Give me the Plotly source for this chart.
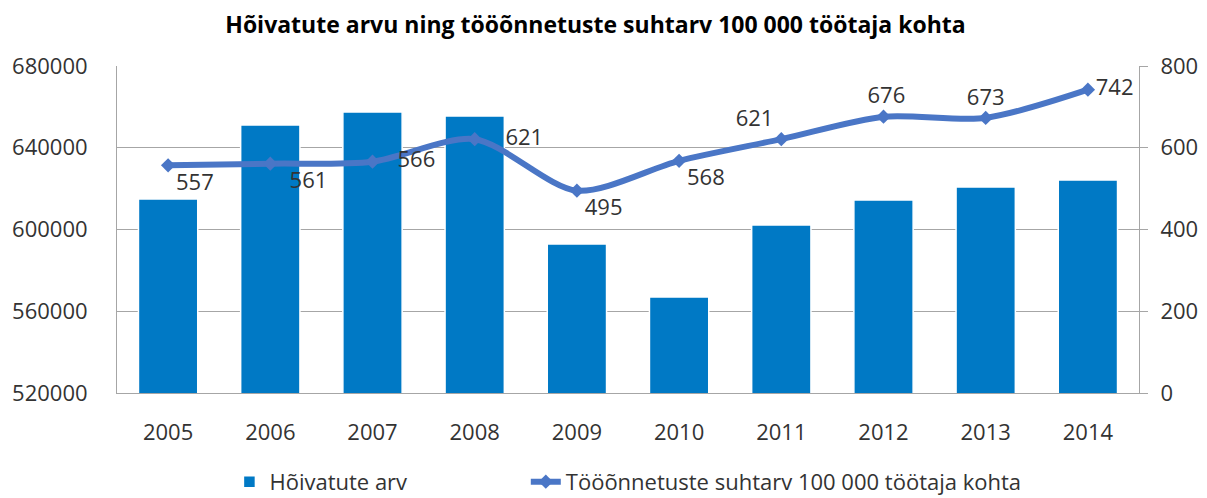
import plotly.graph_objects as go

years = ["2005", "2006", "2007", "2008", "2009", "2010", "2011", "2012", "2013", "2014"]
employed = [614900, 651100, 657500, 655500, 592900, 567000, 602200, 614400, 620800, 624200]
accident_rate = [557, 561, 566, 621, 495, 568, 621, 676, 673, 742]

# label placement (style only)
label_pos = ["bottom right", "bottom right", "middle right", "middle right", "bottom right",
             "bottom right", "top left", "top center", "top center", "middle right"]
label_pad = [0, 2, 3, 4, 0, 0, 0, 1, 0, 0]

FONT = "Open Sans, DejaVu Sans, sans-serif"
TXT = "#333333"
GRID = "#A6A6A6"

labels = ["\u00a0" * p + str(v) for p, v in zip(label_pad, accident_rate)]

fig = go.Figure()
fig.add_trace(go.Bar(
    x=years, y=employed, name="Hõivatute arv",
    marker=dict(color="#0079C5", line=dict(color="white", width=1.5)),
    width=0.58, yaxis="y", legend="legend",
))
fig.add_trace(go.Scatter(
    x=years, y=accident_rate, name="Tööõnnetuste suhtarv 100 000 töötaja kohta",
    mode="lines+markers+text", yaxis="y2", legend="legend2",
    line=dict(color="#4A76C6", width=6, shape="spline", smoothing=0.8),
    marker=dict(symbol="diamond", size=11, color="#4A76C6"),
    text=labels, textposition=label_pos,
    textfont=dict(size=22, color=TXT, family=FONT),
))

legend_common = dict(orientation="h", yanchor="middle", xanchor="left",
                     yref="container", y=0.033,
                     font=dict(size=22, family=FONT, color=TXT),
                     bgcolor="rgba(0,0,0,0)", borderwidth=0)

fig.update_layout(
    width=1199, height=490,
    paper_bgcolor="white", plot_bgcolor="white",
    margin=dict(l=109, r=68, t=58, b=105),
    title=dict(text="<b>Hõivatute arvu ning tööõnnetuste suhtarv 100 000 töötaja kohta</b>",
               x=0.49, xanchor="center", y=0.965, yanchor="middle",
               font=dict(size=23, family=FONT, color="#000000")),
    font=dict(family=FONT, size=22, color=TXT),
    showlegend=True,
    legend=dict(x=0.11, **legend_common),
    legend2=dict(x=0.40, **legend_common),
    xaxis=dict(showline=True, linecolor=GRID, linewidth=1, automargin=False,
               range=[-0.5, 9.5], autorange=False,
               tickfont=dict(size=22, color=TXT), ticks="", showgrid=False,
               ticklabelstandoff=20),
    yaxis=dict(range=[520000, 680000], dtick=40000, tickformat="d",
               showgrid=True, gridcolor=GRID, gridwidth=1, automargin=False,
               showline=True, linecolor=GRID, linewidth=1,
               ticks="", tickfont=dict(size=22, color=TXT),
               ticklabelstandoff=24, zeroline=False),
    yaxis2=dict(range=[0, 800], dtick=200, overlaying="y", side="right",
                showgrid=False, showline=True, linecolor=GRID, linewidth=1,
                automargin=False,
                ticks="outside", ticklen=8, tickcolor=GRID,
                tickfont=dict(size=22, color=TXT), ticklabelstandoff=8,
                zeroline=False),
)

fig.write_html("out.html")
